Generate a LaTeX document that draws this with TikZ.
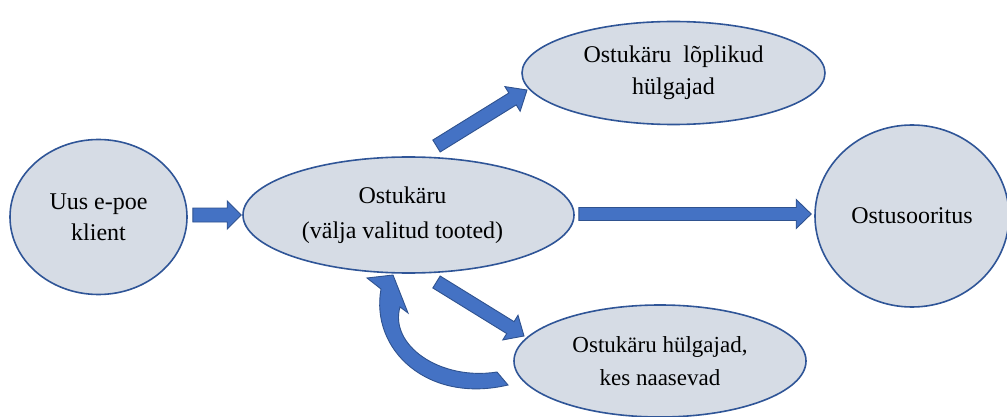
\documentclass[tikz,border=0pt]{standalone}
\usepackage{fontspec}
\setmainfont{Liberation Serif}
\usetikzlibrary{shapes.geometric,calc}

\definecolor{bubblefill}{HTML}{D6DCE5}
\definecolor{bubbleline}{HTML}{2F5597}
\definecolor{arrowfill}{HTML}{4472C4}
\definecolor{arrowline}{HTML}{2F528F}

% block arrow: tail, tip, shaft half width, head half width, head length
\newcommand\flowarrow[5]{%
  \path ($(#2)!#5!(#1)$) coordinate (fa-head);
  \filldraw[blockarrow]
    ($(#1)!#3!90:(#2)$) -- ($(fa-head)!#3!90:(#2)$) -- ($(fa-head)!#4!90:(#2)$)
    -- (#2)
    -- ($(fa-head)!#4!-90:(#2)$) -- ($(fa-head)!#3!-90:(#2)$) -- ($(#1)!#3!-90:(#2)$)
    -- cycle;
}

\tikzset{
  bubble/.style={ellipse, draw=bubbleline, line width=1.6pt, fill=bubblefill,
    inner sep=0pt, align=center, text=black},
  blockarrow/.style={fill=arrowfill, draw=arrowline, line width=0.9pt, line join=miter},
}

\begin{document}
\begin{tikzpicture}[x=1pt, y=-1pt]
\useasboundingbox (0,0) rectangle (1007,417);

% stages
\node[bubble, minimum width=177pt, minimum height=155pt,
      font=\fontsize{24}{31}\selectfont] (klient) at (98.5,217) {Uus e-poe\\klient};
\node[bubble, minimum width=331pt, minimum height=116pt,
      font=\fontsize{24}{35}\selectfont] (ostukorv) at (408.5,215)
      {\hspace*{-12pt}Ostukäru\\\hspace*{-12pt}(välja valitud tooted)};
\node[bubble, minimum width=303pt, minimum height=103pt,
      font=\fontsize{24}{32}\selectfont] (loplik) at (673.5,73)
      {Ostukäru\hspace{0.5em}lõplikud\\hülgajad};
\node[bubble, minimum width=194pt, minimum height=182pt,
      font=\fontsize{24}{32}\selectfont] (ost) at (912,216) {Ostusooritus};
\node[bubble, minimum width=292pt, minimum height=112pt,
      font=\fontsize{23}{33}\selectfont] (naasevad) at (660,361)
      {Ostukäru hülgajad,\\kes naasevad};

% arrow end points between the stages
\coordinate (k-out) at ($(klient.east)+(5,-2)$);
\coordinate (o-in)  at ($(ostukorv.west)+(-1,0)$);
\coordinate (o-out) at ($(ostukorv.east)+(4,-1)$);
\coordinate (s-in)  at ($(ost.west)+(-3,-2)$);
\coordinate (o-up)  at (436.5,146);
\coordinate (l-in)  at (527,90);
\coordinate (o-down) at (436.5,282);
\coordinate (n-in)  at (524,336);

\flowarrow{k-out}{o-in}{7pt}{14pt}{14pt}
\flowarrow{o-out}{s-in}{6.5pt}{14.5pt}{15pt}
\flowarrow{o-up}{l-in}{7pt}{14.5pt}{17pt}
\flowarrow{o-down}{n-in}{7pt}{14.5pt}{16pt}

% returning customers loop back to the cart
\filldraw[blockarrow]
  (508,385) .. controls (428,404) and (370,350) .. (381,289)
  -- (367,278) -- (393,275) -- (408,313) -- (400,307)
  .. controls (389,345) and (440,381) .. (497,372) -- cycle;
\end{tikzpicture}
\end{document}
